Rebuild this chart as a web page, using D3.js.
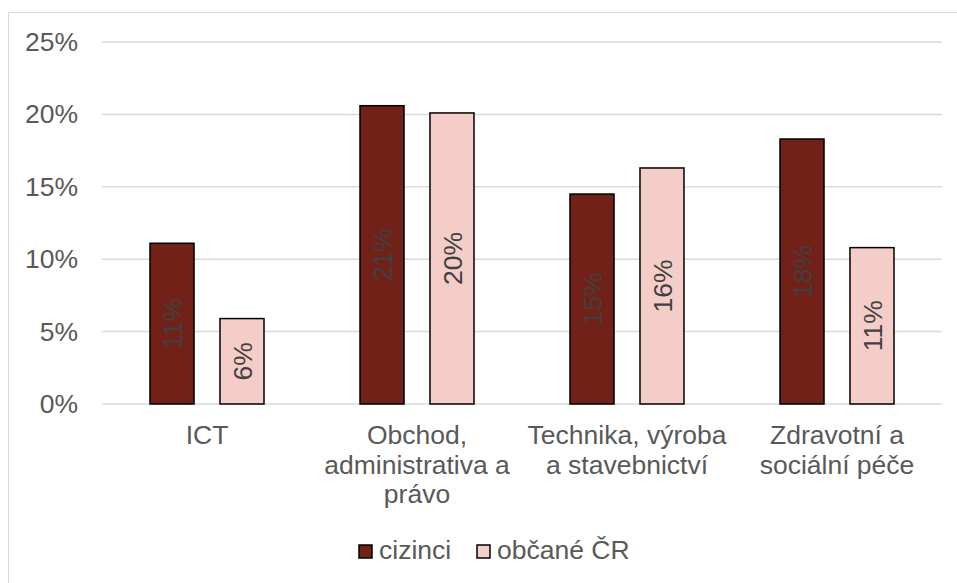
<!DOCTYPE html>
<html>
<head>
<meta charset="utf-8">
<script src="https://cdn.jsdelivr.net/npm/d3@7"></script>
<style>
  body { margin: 0; background: #fff; }
  text { font-family: "Liberation Sans", Arial, sans-serif; }
</style>
</head>
<body>
<svg id="chart" width="957" height="583"></svg>
<script>
// data
const categories = [
    ["ICT"],
    ["Obchod,", "administrativa a", "právo"],
    ["Technika, výroba", "a stavebnictví"],
    ["Zdravotní a", "sociální péče"]
];
const seriesNames = ["cizinci", "občané ČR"];
const cizinci = [11.1, 20.6, 14.5, 18.3];
const obcane = [5.9, 20.1, 16.3, 10.8];
const yTicks = [0, 5, 10, 15, 20, 25];

const colors = ["#722119", "#f4cdc8"];
const textColor = "#595959";
const fontSize = "26.5px";

const svg = d3.select("#chart");
const margin = {top: 42, right: 15, bottom: 179, left: 102};
const width = 957 - margin.left - margin.right;
const height = 583 - margin.top - margin.bottom;

// outer frame (cut off by the picture on right and bottom)
svg.append("rect")
    .attr("x", 8.5).attr("y", 12.5)
    .attr("width", 1000).attr("height", 1000)
    .attr("fill", "none")
    .attr("stroke", "#d9d9d9")
    .attr("stroke-width", 1);

const g = svg.append("g").attr("transform", `translate(${margin.left},${margin.top})`);

const x0 = d3.scaleBand().domain(d3.range(categories.length)).range([0, width]);
const x1 = d3.scaleBand().domain([0, 1]).range([48, x0.bandwidth() - 48]).paddingInner(0.371);
const y = d3.scaleLinear().domain([0, 25]).range([height, 0]);

// gridlines
g.append("g")
    .selectAll("line")
    .data(yTicks)
    .join("line")
    .attr("x1", 0).attr("x2", width)
    .attr("y1", d => y(d)).attr("y2", d => y(d))
    .attr("stroke", "#d9d9d9")
    .attr("stroke-width", 1.5);

// y axis labels
const yAxis = g.append("g")
    .call(d3.axisLeft(y).tickValues(yTicks).tickFormat(d => d + "%").tickSize(0).tickPadding(24));
yAxis.select(".domain").remove();
yAxis.selectAll("text")
    .attr("fill", textColor)
    .style("font-size", fontSize)
    .attr("font-family", "Liberation Sans, Arial, sans-serif");

const rows = categories.map((c, i) => [cizinci[i], obcane[i]]);

const groups = g.selectAll(".cat")
    .data(rows)
    .join("g")
    .attr("class", "cat")
    .attr("transform", (d, i) => `translate(${x0(i)},0)`);

groups.selectAll("rect")
    .data(d => d)
    .join("rect")
    .attr("x", (d, j) => x1(j))
    .attr("y", d => y(d))
    .attr("width", x1.bandwidth())
    .attr("height", d => y(0) - y(d))
    .attr("fill", (d, j) => colors[j])
    .attr("stroke", "#000")
    .attr("stroke-width", 1.5);

// data labels, rotated, centred in each bar
groups.selectAll("text.lbl")
    .data(d => d)
    .join("text")
    .attr("class", "lbl")
    .attr("transform", (d, j) => `translate(${x1(j) + x1.bandwidth() / 2},${(y(d) + y(0)) / 2}) rotate(-90)`)
    .attr("text-anchor", "middle")
    .attr("dy", "0.36em")
    .attr("fill", "#404040")
    .style("font-size", fontSize)
    .text(d => Math.round(d) + "%");

// category labels
const catLabels = g.selectAll(".catlbl")
    .data(categories)
    .join("text")
    .attr("class", "catlbl")
    .attr("text-anchor", "middle")
    .attr("fill", textColor)
    .style("font-size", fontSize)
    .attr("transform", (d, i) => `translate(${x0(i) + x0.bandwidth() / 2},${height + 40})`);
catLabels.selectAll("tspan")
    .data(d => d)
    .join("tspan")
    .attr("x", 0)
    .attr("y", (d, k) => k * 29.5)
    .text(d => d);

// legend
const legend = svg.append("g").attr("transform", "translate(359,545)");
const legendX = [0, 118];
seriesNames.forEach((name, j) => {
    const item = legend.append("g").attr("transform", `translate(${legendX[j]},0)`);
    item.append("rect")
        .attr("width", 13).attr("height", 13)
        .attr("fill", colors[j])
        .attr("stroke", "#000")
        .attr("stroke-width", 1.5);
    item.append("text")
        .attr("x", 20).attr("y", 14)
        .attr("fill", textColor)
        .style("font-size", fontSize)
        .text(name);
});
</script>
</body>
</html>
